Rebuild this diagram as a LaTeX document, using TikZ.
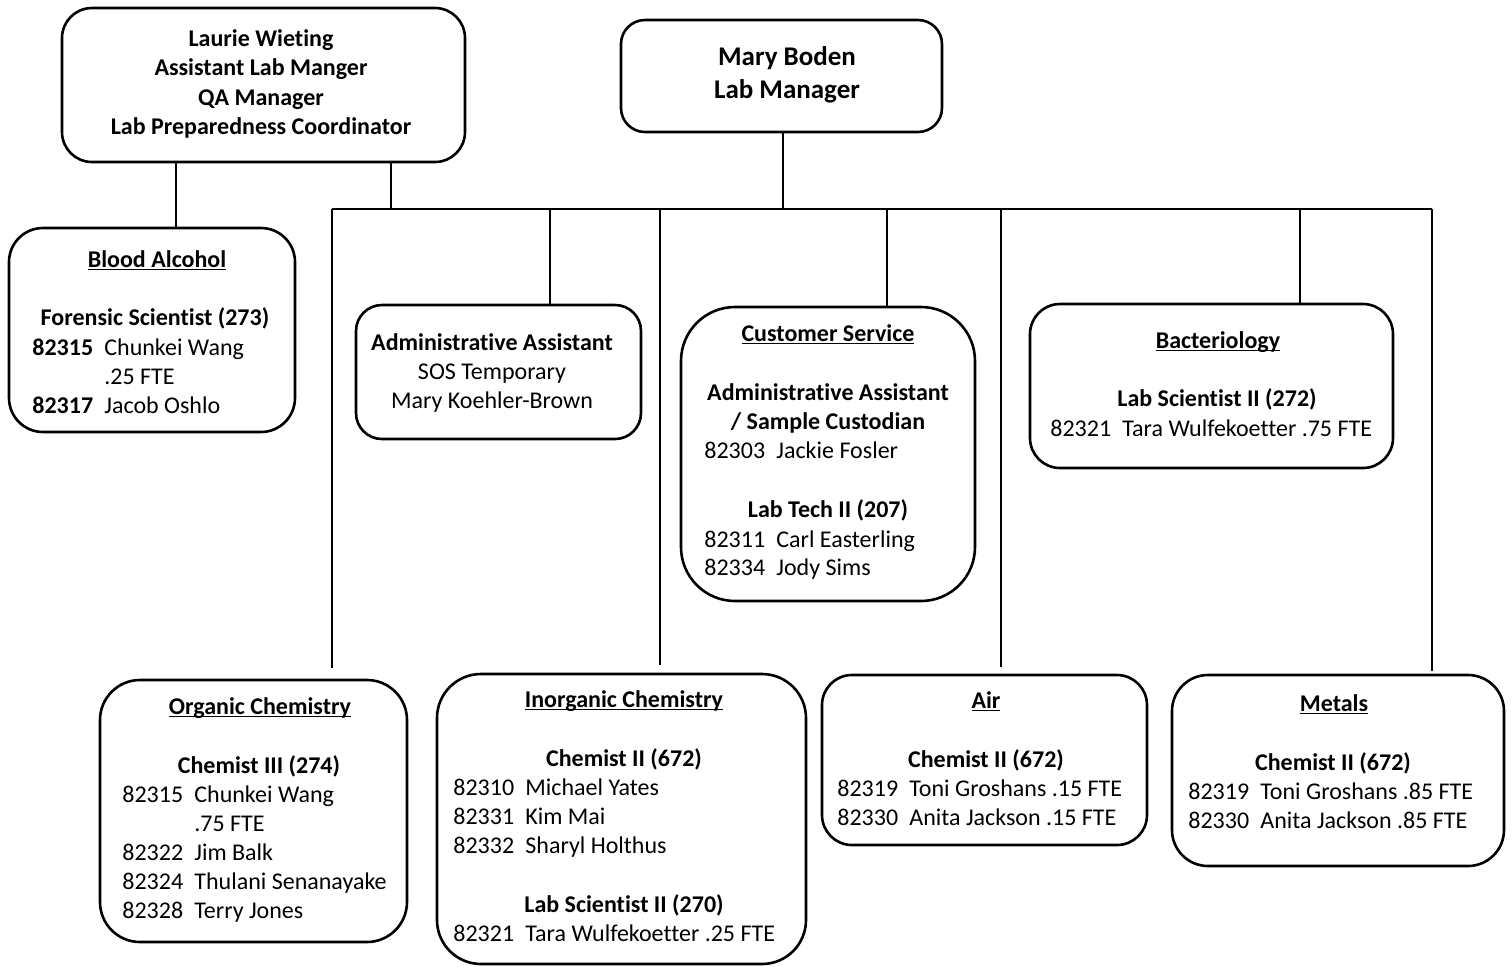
\documentclass[tikz,border=0pt]{standalone}
\usepackage{fontspec}
\setmainfont[Ligatures=NoCommon]{Carlito}
\newcommand\nm[2]{\makebox[36pt][l]{#1}#2}
\newcommand\ulh[1]{\underline{\smash{#1}}}
\begin{document}
\begin{tikzpicture}[x=0.5pt,y=-0.5pt,
  boxs/.style={draw,line width=1.3pt,inner sep=0pt},
  conn/.style={line width=1pt},
  txt/.style={inner sep=0pt,font=\fontsize{12}{14.65}\selectfont},
  big/.style={inner sep=0pt,font=\fontsize{13.5}{16.5}\selectfont\bfseries}]
\useasboundingbox (0,0) rectangle (1512,966);
\newcommand\bx[6]{\node[boxs,rounded corners=#6pt,minimum width={(#4-#2)*0.5pt},minimum height={(#5-#3)*0.5pt}] (#1) at ({(#2+#4)/2},{(#3+#5)/2}) {};}
\newcommand\txc[4]{\node[txt,anchor=base] (#1) at (#2,#3) {#4};}
\newcommand\txl[4]{\node[txt,anchor=base west] (#1) at (#2,#3) {#4};}
% boxes
\bx{laurie}{62}{8}{465}{162}{15}
\bx{mary}{621}{20}{942}{132}{12}
\bx{blood}{9}{228}{295}{432}{17}
\bx{admin}{356}{305}{641}{439}{13}
\bx{cust}{681}{307}{975}{601}{27}
\bx{bact}{1030}{304}{1393}{468}{15}
\bx{org}{100}{680}{407}{942}{20}
\bx{inorg}{437}{674}{806}{964}{22}
\bx{air}{822}{675}{1147}{845}{15}
\bx{met}{1172}{675}{1504}{866}{18}
% connectors
\coordinate (busL) at (332,209);
\coordinate (busR) at (1432,209);
\coordinate (dL) at (391,209);
\coordinate (dM) at (783,209);
\coordinate (dAdm) at (550,209);
\coordinate (dInorg) at (660,209);
\coordinate (dCust) at (887,209);
\coordinate (dAir) at (1001,209);
\coordinate (dBact) at (1300,209);
\coordinate (cB) at (176,200);
\coordinate (eOrg) at (332,668);
\coordinate (eInorg) at (660,665);
\coordinate (eAir) at (1001,667);
\coordinate (eMet) at (1432,671);
\draw[conn] (busL) -- (busR);
\draw[conn] (laurie.south -| cB) -- (blood.north -| cB);
\draw[conn] (laurie.south -| dL) -- (dL);
\draw[conn] (mary.south -| dM) -- (dM);
\draw[conn] (busL) -- (eOrg);
\draw[conn] (dAdm) -- (admin.north -| dAdm);
\draw[conn] (dInorg) -- (eInorg);
\draw[conn] (dCust) -- (cust.north -| dCust);
\draw[conn] (dAir) -- (eAir);
\draw[conn] (dBact) -- (bact.north -| dBact);
\draw[conn] (busR) -- (eMet);
% Laurie
\txc{l1}{261}{46}{\textbf{Laurie Wieting}}
\txc{l2}{261}{75}{\textbf{Assistant Lab Manger}}
\txc{l3}{261}{105}{\textbf{QA Manager}}
\txc{l4}{261}{134}{\textbf{Lab Preparedness Coordinator}}
% Mary
\node[big,anchor=base] (m1) at (787,65) {Mary Boden};
\node[big,anchor=base] (m2) at (787,98) {Lab Manager};
% Blood alcohol
\txc{b1}{157}{267}{\textbf{\ulh{Blood Alcohol}}}
\txc{b2}{155}{325}{\textbf{Forensic Scientist (273)}}
\txl{b3}{32}{355}{\nm{\textbf{82315}}{Chunkei Wang}}
\txl{b4}{32}{384}{\nm{}{.25 FTE}}
\txl{b5}{32}{413}{\nm{\textbf{82317}}{Jacob Oshlo}}
% Admin
\txc{a1}{492}{350}{\textbf{Administrative Assistant}}
\txc{a2}{492}{379}{SOS Temporary}
\txc{a3}{492}{408}{Mary Koehler-Brown}
% Customer service
\txc{c1}{828}{341}{\textbf{\ulh{Customer Service}}}
\txc{c2}{828}{400}{\textbf{Administrative Assistant}}
\txc{c3}{828}{429}{\textbf{/ Sample Custodian}}
\txl{c4}{704}{458}{\nm{82303}{Jackie Fosler}}
\txc{c5}{828}{517}{\textbf{Lab Tech II (207)}}
\txl{c6}{704}{547}{\nm{82311}{Carl Easterling}}
\txl{c7}{704}{575}{\nm{82334}{Jody Sims}}
% Bacteriology
\txc{k1}{1218}{348}{\textbf{\ulh{Bacteriology}}}
\txc{k2}{1217}{406}{\textbf{Lab Scientist II (272)}}
\txl{k3}{1050}{436}{\nm{82321}{Tara Wulfekoetter .75 FTE}}
% Organic
\txc{o1}{260}{714}{\textbf{\ulh{Organic Chemistry}}}
\txc{o2}{259}{773}{\textbf{Chemist III (274)}}
\txl{o3}{122}{802}{\nm{82315}{Chunkei Wang}}
\txl{o4}{122}{831}{\nm{}{.75 FTE}}
\txl{o5}{122}{860}{\nm{82322}{Jim Balk}}
\txl{o6}{122}{889}{\nm{82324}{Thulani Senanayake}}
\txl{o7}{122}{918}{\nm{82328}{Terry Jones}}
% Inorganic
\txc{i1}{624}{707}{\textbf{\ulh{Inorganic Chemistry}}}
\txc{i2}{624}{766}{\textbf{Chemist II (672)}}
\txl{i3}{453}{795}{\nm{82310}{Michael Yates}}
\txl{i4}{453}{824}{\nm{82331}{Kim Mai}}
\txl{i5}{453}{853}{\nm{82332}{Sharyl Holthus}}
\txc{i6}{624}{912}{\textbf{Lab Scientist II (270)}}
\txl{i7}{453}{941}{\nm{82321}{Tara Wulfekoetter .25 FTE}}
% Air
\txc{r1}{986}{708}{\textbf{\ulh{Air}}}
\txc{r2}{986}{767}{\textbf{Chemist II (672)}}
\txl{r3}{837}{796}{\nm{82319}{Toni Groshans .15 FTE}}
\txl{r4}{837}{825}{\nm{82330}{Anita Jackson .15 FTE}}
% Metals
\txc{s1}{1334}{711}{\textbf{\ulh{Metals}}}
\txc{s2}{1333}{770}{\textbf{Chemist II (672)}}
\txl{s3}{1188}{799}{\nm{82319}{Toni Groshans .85 FTE}}
\txl{s4}{1188}{828}{\nm{82330}{Anita Jackson .85 FTE}}
\end{tikzpicture}
\end{document}
